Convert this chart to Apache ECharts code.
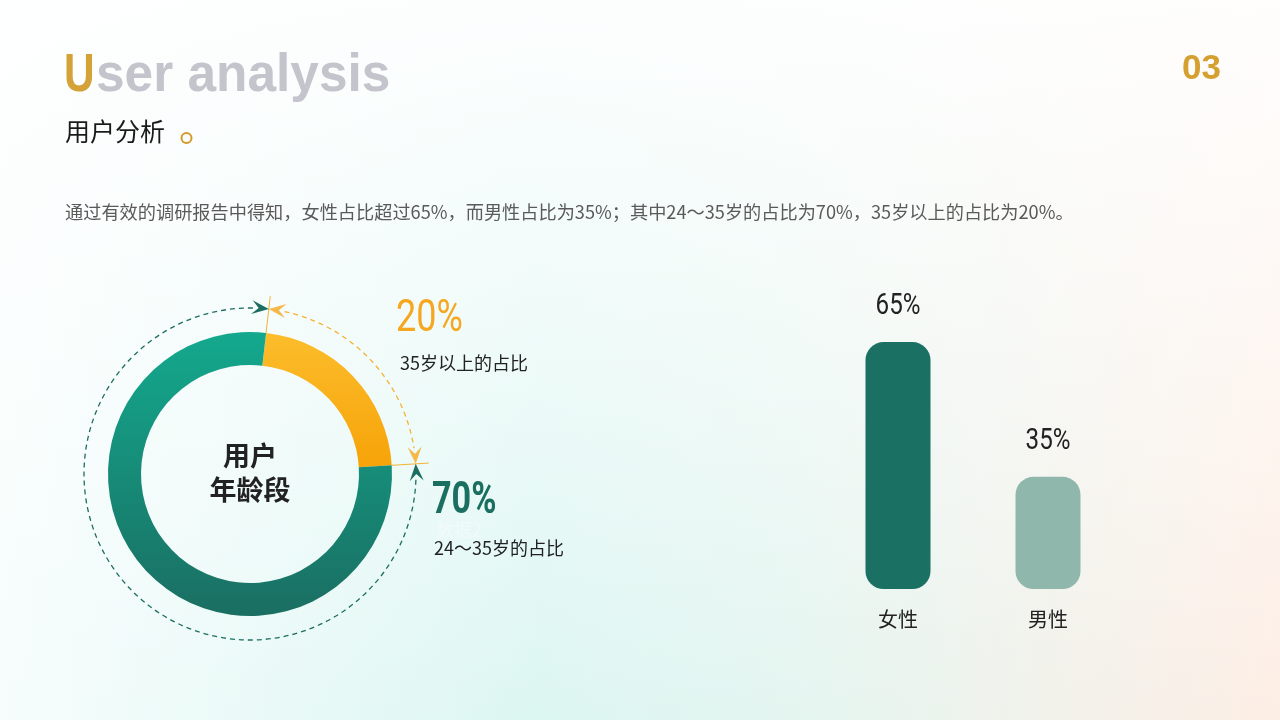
<!DOCTYPE html>
<html>
<head>
<meta charset="utf-8">
<title>User analysis</title>
<script src="https://cdn.jsdelivr.net/npm/echarts@6/dist/echarts.min.js"></script>
<style>
    html, body { margin: 0; padding: 0; width: 1280px; height: 720px; overflow: hidden; }
    body {
        background:
            linear-gradient(to bottom, rgba(255,255,255,0.92) 0%, rgba(255,255,255,0.55) 45%, rgba(255,255,255,0) 100%),
            linear-gradient(to right, #f6fdfc 0%, #dcf6f2 42%, #e4f5f0 62%, #fdeee5 100%);
    }
    #charts { width: 1280px; height: 720px; }
</style>
</head>
<body>
<div id="charts"></div>
<script>
    // --- data ---
    var ageNames = ['35岁以上的占比', '24～35岁的占比'];
    var ageValues = [20, 70];
    var genderNames = ['女性', '男性'];
    var genderValues = [65, 35];

    var CJK = '"Noto Sans CJK SC", "Noto Sans", sans-serif';
    var NUM = 'Roboto, "Liberation Sans", sans-serif';

    var CX = 250, CY = 474;      // ring centre
    var RING_R = 166;            // dashed guide radius
    var startFromTop = 6.5;      // where the orange slice begins, degrees clockwise from 12 o'clock
    var total = ageValues[0] + ageValues[1];
    var a0 = startFromTop;
    var a1 = startFromTop + 360 * ageValues[0] / total;

    var teal = '#1d6e60';
    var gold = '#f6b232';

    function rad(deg) { return (deg - 90) * Math.PI / 180; }
    function pt(deg, r) { return [CX + r * Math.cos(rad(deg)), CY + r * Math.sin(rad(deg))]; }

    // arrow head with its tip on the guide circle, dir 1 = clockwise, -1 = anticlockwise
    function arrow(deg, dir, color) {
        var p = rad(deg);
        var tip = pt(deg, RING_R);
        var tx = -Math.sin(p) * dir, ty = Math.cos(p) * dir;
        var nx = Math.cos(p), ny = Math.sin(p);
        var L = 17, W = 7;
        var bx = tip[0] - tx * L, by = tip[1] - ty * L;
        return {
            type: 'polygon', silent: true, z: 10,
            shape: { points: [tip, [bx + nx * W, by + ny * W], [tip[0] - tx * L * 0.6, tip[1] - ty * L * 0.6], [bx - nx * W, by - ny * W]] },
            style: { fill: color }
        };
    }

    function tick(deg) {
        var p1 = pt(deg, 142), p2 = pt(deg, 179);
        return { type: 'line', silent: true, z: 9, shape: { x1: p1[0], y1: p1[1], x2: p2[0], y2: p2[1] }, style: { stroke: gold, lineWidth: 1 } };
    }

    function txt(x, y, text, font, fill, align, scaleX) {
        return {
            type: 'text', x: x, y: y, silent: true, scaleX: scaleX || 1,
            style: { text: text, font: font, fill: fill, textAlign: align || 'left', textVerticalAlign: 'middle' }
        };
    }

    var gap = 5.5;
    var graphics = [
        // headings
        txt(64, 76, 'U', 'bold 53px "Liberation Sans", sans-serif', '#d4a237', 'left', 0.8),
        txt(96, 76, 'ser analysis', 'bold 53px "Liberation Sans", sans-serif', '#c4c4cc', 'left', 0.97),
        txt(65, 131, '用户分析', '25px ' + CJK, '#1a1a1a'),
        { type: 'circle', silent: true, shape: { cx: 186.5, cy: 138, r: 5 }, style: { fill: 'none', stroke: '#d49a2a', lineWidth: 2 } },
        txt(1221, 69, '03', 'bold 35px "Liberation Sans", sans-serif', '#d4a030', 'right'),
        txt(65, 212, '通过有效的调研报告中得知，女性占比超过65%，而男性占比为35%；其中24～35岁的占比为70%，35岁以上的占比为20%。', '18.2px ' + CJK, '#5a5a5a'),

        // dashed guides around the ring
        { type: 'arc', silent: true, shape: { cx: CX, cy: CY, r: RING_R, startAngle: rad(a1 + gap), endAngle: rad(a0 + 360 - gap), clockwise: true },
          style: { fill: 'none', stroke: teal, lineWidth: 1.3, lineDash: [5, 4] } },
        { type: 'arc', silent: true, shape: { cx: CX, cy: CY, r: RING_R, startAngle: rad(a0 + gap), endAngle: rad(a1 - gap), clockwise: true },
          style: { fill: 'none', stroke: gold, lineWidth: 1.3, lineDash: [5, 4] } },
        tick(a0), tick(a1),
        arrow(a0, 1, teal), arrow(a1, -1, teal),
        arrow(a0, -1, '#f5b84a'), arrow(a1, 1, '#f5b84a'),

        // ring centre caption
        txt(CX, CY - 18, '用户', 'bold 27px ' + CJK, '#222', 'center'),
        txt(CX, CY + 16, '年龄段', 'bold 27px ' + CJK, '#222', 'center'),

        // callouts
        txt(396, 320, ageValues[0] + '%', '400 45px ' + NUM, '#f5a81f', 'left', 0.8),
        txt(400, 363, ageNames[0], '18px ' + CJK, '#222'),
        txt(432, 502, ageValues[1] + '%', 'bold 45px ' + NUM, '#1b6f60', 'left', 0.76),
        txt(436, 530, '数据2', '18px ' + CJK, 'rgba(255,255,255,0.4)'),
        txt(434, 548, ageNames[1], '18px ' + CJK, '#222')
    ];

    var chart = echarts.init(document.getElementById('charts'));
    chart.setOption({
        backgroundColor: 'transparent',
        animation: false,
        grid: { left: 823, top: 185, width: 300, height: 404, containLabel: false },
        xAxis: {
            type: 'category',
            data: genderNames,
            axisLine: { show: false },
            axisTick: { show: false },
            splitLine: { show: false },
            axisLabel: { fontSize: 20, color: '#222', margin: 20, fontFamily: CJK }
        },
        yAxis: { type: 'value', min: 10, max: 100, show: false, splitLine: { show: false } },
        series: [
            {
                type: 'pie',
                silent: true,
                center: [CX, CY],
                radius: [109, 142],
                startAngle: 90 - startFromTop,
                clockwise: true,
                label: { show: false },
                labelLine: { show: false },
                itemStyle: { borderWidth: 0 },
                data: [
                    { name: ageNames[0], value: ageValues[0],
                      itemStyle: { color: new echarts.graphic.LinearGradient(0, 0, 0, 1, [{ offset: 0, color: '#fcbd2c' }, { offset: 1, color: '#f6a308' }]) } },
                    { name: ageNames[1], value: ageValues[1],
                      itemStyle: { color: new echarts.graphic.LinearGradient(0, 0, 0, 1, [{ offset: 0, color: '#13a98e' }, { offset: 1, color: '#1a6e62' }]) } }
                ]
            },
            {
                type: 'bar',
                silent: true,
                barWidth: 65,
                itemStyle: { borderRadius: 18 },
                label: { show: false },
                data: genderValues.map(function(v, i) {
                    return { value: v, itemStyle: { color: ['#1a7062', '#8fb7ab'][i] } };
                })
            }
        ]
    });

    // value labels above the bars, placed through the axis scale (narrowed like the reference face)
    genderValues.forEach(function(v, i) {
        var p = chart.convertToPixel({ gridIndex: 0 }, [genderNames[i], v]);
        graphics.push(txt(p[0], p[1] - 35, v + '%', '29.5px ' + NUM, '#222', 'center', 0.82));
    });
    chart.setOption({ graphic: { elements: graphics } });
</script>
</body>
</html>
